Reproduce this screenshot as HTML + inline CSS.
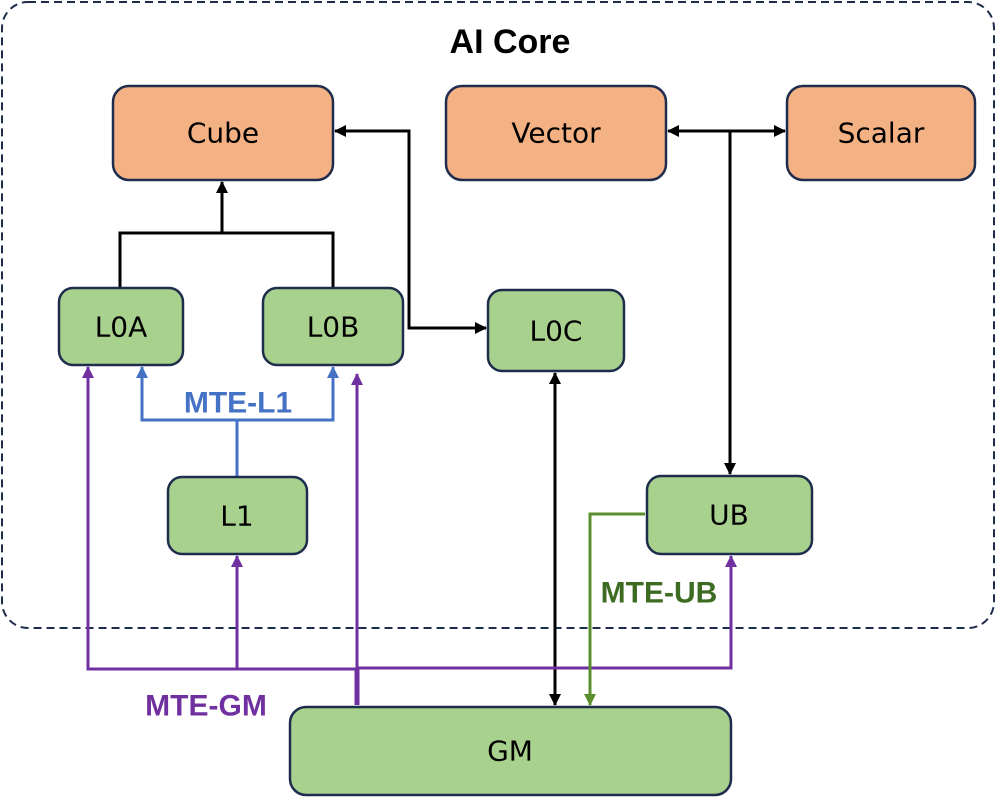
<!DOCTYPE html>
<html><head><meta charset="utf-8"><style>
body{margin:0;background:#fff;}
svg{display:block;font-family:"Liberation Sans",sans-serif;}
.b{fill:#a9d18e;stroke:#1f2d4d;stroke-width:2.5;}
.o{fill:#f4b183;stroke:#1f2d4d;stroke-width:2.5;}
.t{font-family:"DejaVu Sans","Liberation Sans",sans-serif;font-size:28px;text-anchor:middle;dominant-baseline:central;fill:#000;}
.l{font-weight:bold;font-size:30px;}
</style></head><body>
<svg width="996" height="798" viewBox="0 0 996 798">
<defs>
<marker id="ak" markerWidth="12" markerHeight="12" refX="11" refY="6" orient="auto-start-reverse" markerUnits="userSpaceOnUse"><path d="M0,0L12,6L0,12z" fill="#000"/></marker>
<marker id="ap" markerWidth="12" markerHeight="12" refX="11" refY="6" orient="auto" markerUnits="userSpaceOnUse"><path d="M0,0L12,6L0,12z" fill="#7030a0"/></marker>
<marker id="ab" markerWidth="12" markerHeight="12" refX="11" refY="6" orient="auto" markerUnits="userSpaceOnUse"><path d="M0,0L12,6L0,12z" fill="#4472c4"/></marker>
<marker id="ag" markerWidth="12" markerHeight="12" refX="11" refY="6" orient="auto" markerUnits="userSpaceOnUse"><path d="M0,0L12,6L0,12z" fill="#5b8f2e"/></marker>
</defs>
<rect x="2" y="2" width="992" height="626" rx="26" fill="none" stroke="#1f2d4d" stroke-width="2" stroke-dasharray="8,5"/>
<text x="510" y="42" text-anchor="middle" dominant-baseline="central" font-weight="bold" font-size="34">AI Core</text>

<g stroke="#000" stroke-width="3" fill="none">
<path d="M120,288V233H333V288"/>
<path d="M222,233V182" marker-end="url(#ak)"/>
<path d="M335,131H409V328H486" marker-start="url(#ak)" marker-end="url(#ak)"/>
<path d="M668,131H785" marker-start="url(#ak)" marker-end="url(#ak)"/>
<path d="M730,131V474" marker-end="url(#ak)"/>
<path d="M555,373V705" marker-start="url(#ak)" marker-end="url(#ak)"/>
</g>
<g stroke="#4472c4" stroke-width="3" fill="none">
<path d="M237,477V420H142V367" marker-end="url(#ab)"/>
<path d="M237,420H333V367" marker-end="url(#ab)"/>
</g>
<g stroke="#7030a0" stroke-width="3" fill="none">
<path d="M357,669H88V367" marker-end="url(#ap)"/>
<path d="M237,669V556" marker-end="url(#ap)"/>
<path d="M357,668H731V556" marker-end="url(#ap)"/>
<path d="M357,705V374" marker-end="url(#ap)"/>
<path d="M357,669V705" stroke-width="5"/>
</g>
<path d="M645,514H590V705" stroke="#5b8f2e" stroke-width="3" fill="none" marker-end="url(#ag)"/>

<rect class="o" x="113" y="86" width="220" height="94" rx="16"/>
<rect class="o" x="446" y="86" width="220" height="94" rx="16"/>
<rect class="o" x="787" y="86" width="188" height="94" rx="16"/>
<rect class="b" x="59" y="288" width="124" height="77" rx="14"/>
<rect class="b" x="263" y="288" width="140" height="77" rx="14"/>
<rect class="b" x="488" y="290" width="136" height="81" rx="14"/>
<rect class="b" x="168" y="477" width="139" height="77" rx="14"/>
<rect class="b" x="647" y="476" width="165" height="78" rx="14"/>
<rect class="b" x="290" y="707" width="441" height="88" rx="16"/>

<text class="t" x="223" y="133">Cube</text>
<text class="t" x="556" y="133">Vector</text>
<text class="t" x="881" y="133">Scalar</text>
<text class="t" x="121" y="327">L0A</text>
<text class="t" x="333" y="327">L0B</text>
<text class="t" x="556" y="331">L0C</text>
<text class="t" x="237" y="516">L1</text>
<text class="t" x="729" y="515">UB</text>
<text class="t" x="510" y="751">GM</text>

<text class="l" x="238" y="403" text-anchor="middle" dominant-baseline="central" fill="#4472c4">MTE-L1</text>
<text class="l" x="659" y="593" text-anchor="middle" dominant-baseline="central" fill="#3d6b22">MTE-UB</text>
<text class="l" x="206" y="706" text-anchor="middle" dominant-baseline="central" fill="#7030a0">MTE-GM</text>
</svg>
</body></html>
